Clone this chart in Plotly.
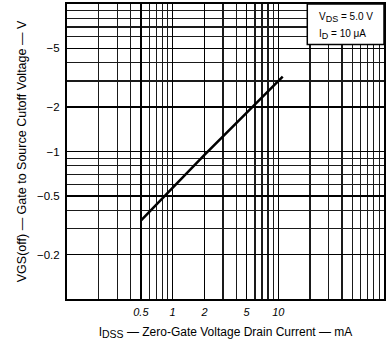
import plotly.graph_objects as go

# ---- data ----
idss_ma = [0.5, 1, 2, 5, 11]               # IDSS (mA)
vgs_off_v = [-0.34, -0.57, -0.95, -1.83, -3.22]  # VGS(off) (V)

x_tick_vals = [0.5, 1, 2, 5, 10]
x_tick_text = ["0.5", "1", "2", "5", "10"]
y_tick_vals = [-5, -2, -1, -0.5, -0.2]
y_tick_text = ["\u22125", "\u22122", "\u22121", "\u22120.5", "\u22120.2"]

x_grid_vals = [m * d for d in (0.1, 1, 10) for m in range(1, 10)] + [100]
y_grid_vals = [m * d for d in (0.1, 1) for m in range(1, 10)] + [10]

FONT = "Liberation Sans, Arial, sans-serif"

fig = go.Figure()
fig.add_trace(go.Scatter(
    x=idss_ma, y=[abs(v) for v in vgs_off_v], mode="lines",
    line=dict(color="black", width=2.5), showlegend=False, hoverinfo="skip"))

fig.update_xaxes(
    type="log", range=[-1, 2],
    tickmode="array", tickvals=x_tick_vals, ticktext=x_tick_text,
    tickfont=dict(family=FONT, size=11, color="black", style="italic"),
    ticks="", ticklabelstandoff=2,
    showgrid=True, gridcolor="black", gridwidth=1.3,
    minor=dict(tickmode="array", tickvals=x_grid_vals, showgrid=True,
               gridcolor="#1a1a1a", gridwidth=1.3, ticks=""),
    showline=True, linecolor="black", linewidth=2, mirror=True,
    title=dict(text="I<sub><span style='font-size:10.5px'>DSS</span></sub> \u2014 Zero-Gate Voltage Drain Current \u2014 mA",
               font=dict(family=FONT, size=12, color="black"), standoff=10),
    zeroline=False)

fig.update_yaxes(
    type="log", range=[-1, 1],
    tickmode="array", tickvals=[abs(v) for v in y_tick_vals], ticktext=y_tick_text,
    tickfont=dict(family=FONT, size=11.5, color="black"),
    ticks="", ticklabelstandoff=3,
    showgrid=True, gridcolor="black", gridwidth=1.3,
    minor=dict(tickmode="array", tickvals=y_grid_vals, showgrid=True,
               gridcolor="#1a1a1a", gridwidth=1.3, ticks=""),
    showline=True, linecolor="black", linewidth=2, mirror=True,
    title=dict(text="VGS(off) \u2014 Gate to Source Cutoff Voltage \u2014 V",
               font=dict(family=FONT, size=12.5, color="black"), standoff=8),
    zeroline=False)

# condition box (top right)
fig.add_shape(type="rect", xref="paper", yref="paper",
              x0=0.758, x1=1.0, y0=0.863, y1=1.0,
              fillcolor="white", line=dict(color="black", width=1.5), layer="above")
fig.add_annotation(xref="paper", yref="paper", x=0.79, y=0.955, xanchor="left", yanchor="middle",
                   text="V<sub><span style='font-size:9px'>DS</span></sub> = 5.0 V", showarrow=False,
                   font=dict(family=FONT, size=10, color="black"))
fig.add_annotation(xref="paper", yref="paper", x=0.79, y=0.895, xanchor="left", yanchor="middle",
                   text="I<sub><span style='font-size:9px'>D</span></sub> = 10 \u03bcA", showarrow=False,
                   font=dict(family=FONT, size=10, color="black"))

fig.update_layout(
    width=387, height=343,
    margin=dict(l=67, r=1, t=4, b=44),
    paper_bgcolor="white", plot_bgcolor="white",
    font=dict(family=FONT, color="black"))

fig.write_html("out.html", config={"displayModeBar": False, "staticPlot": True},
               post_script="document.body.style.margin='0px';document.body.style.overflow='hidden';")
